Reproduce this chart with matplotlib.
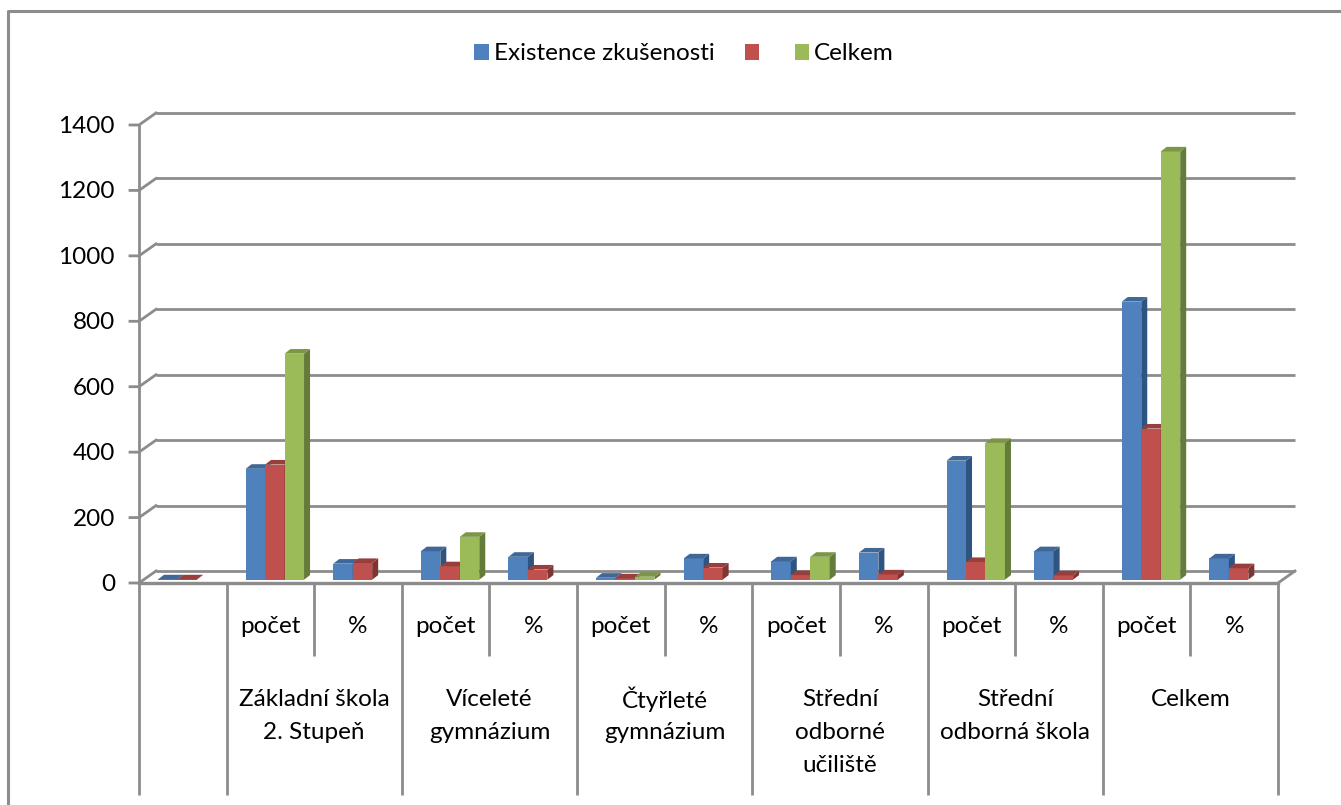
import matplotlib
matplotlib.use("Agg")
import matplotlib.pyplot as plt
from matplotlib.patches import Patch, Polygon
from matplotlib.transforms import Affine2D

plt.rcParams['font.family'] = ['Lato', 'DejaVu Sans']

sub_labels = ['', 'počet', '%', 'počet', '%', 'počet', '%', 'počet', '%', 'počet', '%', 'počet', '%']
group_labels = ['Základní škola\n2. Stupeň', 'Víceleté\ngymnázium', 'Čtyřleté\ngymnázium',
                'Střední\nodborné\nučiliště', 'Střední\nodborná škola', 'Celkem']
series_names = ['Existence zkušenosti', '', 'Celkem']
existence = [1, 339, 49, 87, 70, 6, 65, 56, 83, 364, 87, 850, 65]
second = [1, 352, 51, 41, 31, 4, 37, 14, 16, 54, 13, 462, 35]
total = [0, 691, 0, 131, 0, 9, 0, 70, 0, 418, 0, 1309, 0]
y_ticks = [0, 200, 400, 600, 800, 1000, 1200, 1400]

front = ['#4F81BD', '#C0504D', '#9BBB59']
tops = ['#3F6797', '#983F3D', '#7C9547']
sides = ['#2F5480', '#7F3533', '#657B3A']
GRID = '#8C8C8C'
FS = 17.5

W, H = 1341, 805
fig = plt.figure(figsize=(W / 100, H / 100), dpi=100, facecolor='white')
ax = fig.add_axes([139 / W, 1 - 583 / H, (1278 - 139) / W, (583 - 125) / H])
ax.set_xlim(0, 13)
ax.set_ylim(0, 1400)
ax.axis('off')

# pixel coordinates measured from the top-left corner of the picture
pix = Affine2D().scale(1, -1).translate(0, H)
back = ax.transData + Affine2D().translate(17, 12)
bar_shift = ax.transData + Affine2D().translate(4.4, 3.3)
lw = 2.0

# outer frame of the chart (right side and bottom lie outside the picture)
fig.add_artist(plt.Line2D([8, 8, W], [H, 11, 11], transform=pix, color=GRID, lw=lw + 0.2))

# back wall gridlines, left wall slants and y ticks
for v in y_ticks:
    ax.plot([0, 13], [v, v], transform=back, color=GRID, lw=lw, clip_on=False, zorder=1, solid_capstyle='butt')
    p0 = ax.transData.transform((0, v))
    fig.add_artist(plt.Line2D([p0[0] - 9, p0[0], p0[0] + 17], [H - p0[1], H - p0[1], H - p0[1] - 12],
                              transform=pix, color=GRID, lw=lw))
    fig.text(p0[0] - 24, H - p0[1] + 1.5, str(v), transform=pix, ha='right', va='center',
             fontsize=FS, color='black')

# left axis, floor front edge and right floor slant
ax.plot([0, 0], [0, 1400], color=GRID, lw=lw, clip_on=False, zorder=1)
ax.plot([0, 13], [0, 0], color=GRID, lw=lw + 0.4, clip_on=False, zorder=2)
pr = ax.transData.transform((13, 0))
fig.add_artist(plt.Line2D([pr[0], pr[0] + 17], [H - pr[1], H - pr[1] - 12], transform=pix, color=GRID, lw=lw))


def to_px(i):
    return ax.transData.transform((i, 0))[0]


# multi-level category axis
for i in range(14):
    long_tick = i in (0, 13) or i % 2 == 1
    y_end = 795 if long_tick else 656
    fig.add_artist(plt.Line2D([to_px(i)] * 2, [583, y_end], transform=pix, color=GRID, lw=lw,
                              solid_capstyle='butt'))
for i, lab in enumerate(sub_labels):
    fig.text(to_px(i + 0.5), 626, lab, transform=pix, ha='center', va='center', fontsize=FS)
for g, lab in enumerate(group_labels):
    for k, line in enumerate(lab.split('\n')):
        fig.text(to_px(1 + 2 * g + 1), 699 + 33 * k, line, transform=pix, ha='center', va='center', fontsize=FS)

# 3-D looking clustered bars
width = 1 / 4.5
depth_x, depth_y = 6, 4.6
for j, vals in enumerate([existence, second, total]):
    xs = [i + 0.5 + (j - 1) * width for i in range(len(vals))]
    for x, v in zip(xs, vals):
        if v == 0:
            continue
        ax.bar(x, v, width=width, color=front[j], transform=bar_shift, zorder=3 + j, clip_on=False, linewidth=0)
        x0, y0 = bar_shift.transform((x - width / 2, 0))
        x1, y1 = bar_shift.transform((x + width / 2, v))
        ax.add_patch(Polygon([(x1, y0), (x1 + depth_x, y0 + depth_y), (x1 + depth_x, y1 + depth_y), (x1, y1)],
                             closed=True, transform=None, facecolor=sides[j], edgecolor='none',
                             zorder=3 + j, clip_on=False))
        ax.add_patch(Polygon([(x0, y1), (x0 + depth_x, y1 + depth_y), (x1 + depth_x, y1 + depth_y), (x1, y1)],
                             closed=True, transform=None, facecolor=tops[j], edgecolor='none',
                             zorder=3 + j, clip_on=False))

fig.legend(handles=[Patch(facecolor=c, edgecolor='none') for c in front], labels=series_names,
           ncol=3, loc='center', bbox_to_anchor=(684 / W, 1 - 54 / H), frameon=False, fontsize=FS,
           handlelength=0.6, handleheight=0.6, handletextpad=0.2, columnspacing=1.25)

fig.savefig('out.png', dpi=100)
